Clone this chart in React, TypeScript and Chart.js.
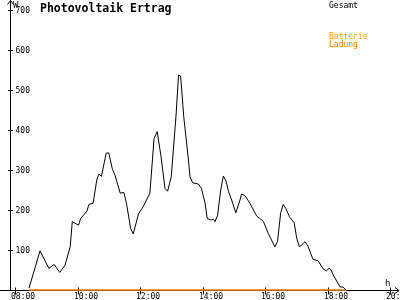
import React, { useEffect, useRef } from "react";
import { Chart, registerables } from "chart.js";

Chart.register(...registerables);

const title = "Photovoltaik Ertrag";
const seriesNames = ["Gesamt", "Batterie", "Ladung"];

const gesamtTimes = [
  "08:27", "08:48", "09:05", "09:15", "09:26", "09:36", "09:46", "09:50", "10:02", "10:06",
  "10:18", "10:22", "10:30", "10:37", "10:41", "10:46", "10:55", "11:00", "11:07", "11:12",
  "11:22", "11:29", "11:34", "11:42", "11:47", "11:57", "12:06", "12:19", "12:27", "12:33",
  "12:40", "12:48", "12:53", "13:00", "13:09", "13:14", "13:18", "13:24", "13:33", "13:36",
  "13:41", "13:52", "13:58", "14:05", "14:09", "14:16", "14:21", "14:24", "14:29", "14:35",
  "14:40", "14:45", "14:50", "14:56", "15:04", "15:12", "15:15", "15:22", "15:31", "15:44",
  "15:50", "15:57", "16:06", "16:19", "16:24", "16:30", "16:35", "16:40", "16:47", "16:56",
  "17:01", "17:06", "17:10", "17:17", "17:23", "17:32", "17:42", "17:52", "17:58", "18:03",
  "18:06", "18:12", "18:24", "18:30", "18:36",
];
const gesamtValues = [
  5, 98, 54, 64, 44, 62, 108, 171, 162, 179,
  197, 214, 217, 275, 290, 284, 342, 343, 302, 287,
  242, 244, 217, 154, 140, 190, 208, 242, 379, 396,
  337, 254, 247, 283, 433, 537, 535, 433, 325, 283,
  268, 265, 254, 217, 179, 175, 177, 171, 187, 250,
  285, 273, 246, 225, 193, 225, 240, 235, 217, 185,
  179, 171, 142, 108, 121, 192, 214, 204, 183, 168,
  129, 108, 112, 121, 108, 77, 73, 52, 48, 54,
  52, 35, 8, 7, 0,
];

const batterieTimes = ["08:27", "18:36"];
const batterieValues = [0, 0];

const xTickLabels = ["08:00", "10:00", "12:00", "14:00", "16:00", "18:00", "20:00"];
const yTickValues = [100, 200, 300, 400, 500, 600, 700];

const toHours = (t: string) => {
  const [h, m] = t.split(":").map(Number);
  return h + m / 60;
};

const MONO = "'DejaVu Sans Mono', monospace";

const axesPlugin = {
  id: "customAxes",
  beforeDatasetsDraw(chart: any) {
    const ctx = chart.ctx;
    const xs = chart.scales.x;
    const ys = chart.scales.y;
    const { left, bottom } = chart.chartArea;
    ctx.save();
    ctx.strokeStyle = "#000";
    ctx.lineWidth = 1;
    const ax = Math.round(left) + 0.5;
    const ay = Math.round(bottom) + 0.5;
    ctx.beginPath();
    ctx.moveTo(ax, ay);
    ctx.lineTo(ax, 0.5);
    ctx.moveTo(ax - 3, 4.5);
    ctx.lineTo(ax, 0.5);
    ctx.lineTo(ax + 3, 4.5);
    ctx.moveTo(0, ay);
    ctx.lineTo(399, ay);
    ctx.moveTo(395, ay - 3);
    ctx.lineTo(399, ay);
    ctx.lineTo(395, ay + 3);
    yTickValues.forEach((v) => {
      const py = Math.round(ys.getPixelForValue(v)) + 0.5;
      ctx.moveTo(ax - 2.5, py);
      ctx.lineTo(ax + 2.5, py);
    });
    xTickLabels.forEach((l) => {
      const px = Math.round(xs.getPixelForValue(toHours(l))) + 0.5;
      ctx.moveTo(px, ay - 3);
      ctx.lineTo(px, ay + 4);
    });
    ctx.stroke();

    ctx.fillStyle = "#000";
    ctx.font = `8px ${MONO}`;
    ctx.textAlign = "left";
    ctx.textBaseline = "middle";
    yTickValues.forEach((v) => {
      const py = Math.round(ys.getPixelForValue(v));
      ctx.fillText(String(v), ax + 5, py + 1);
    });
    ctx.textBaseline = "alphabetic";
    xTickLabels.forEach((l) => {
      const px = Math.round(xs.getPixelForValue(toHours(l)));
      ctx.fillText(l, px - 4, 299);
    });
    ctx.font = `9px ${MONO}`;
    ctx.fillText("h", 385, 286);
    ctx.fillText("W", 13, 8);
    ctx.restore();
  },
  afterDraw(chart: any) {
    const ctx = chart.ctx;
    ctx.save();
    ctx.textAlign = "left";
    ctx.textBaseline = "alphabetic";
    ctx.fillStyle = "#000";
    ctx.font = `bold 11.5px ${MONO}`;
    ctx.fillText(title, 40, 12);
    ctx.font = `8px ${MONO}`;
    ctx.fillText(seriesNames[0], 329, 8);
    ctx.fillStyle = "#ffa500";
    ctx.fillText(seriesNames[1], 329, 39);
    ctx.fillStyle = "#ff8000";
    ctx.fillText(seriesNames[2], 329, 47);
    ctx.restore();
  },
};

export default function App() {
  const ref = useRef<HTMLCanvasElement>(null);
  useEffect(() => {
    if (!ref.current) return;
    const chart = new Chart(ref.current, {
      type: "line",
      data: {
        datasets: [
          {
            label: seriesNames[0],
            data: gesamtTimes.map((t, i) => ({ x: toHours(t), y: gesamtValues[i] })),
            borderColor: "#000",
            borderWidth: 1,
            pointRadius: 0,
            tension: 0,
            fill: false,
          },
          {
            label: seriesNames[1] + " " + seriesNames[2],
            data: batterieTimes.map((t, i) => ({ x: toHours(t), y: batterieValues[i] })),
            borderColor: "#ff8000",
            borderWidth: 1.5,
            pointRadius: 0,
            tension: 0,
            fill: false,
            clip: false,
          },
        ],
      },
      options: {
        animation: false,
        responsive: false,
        events: [],
        layout: { padding: { left: 10, right: 0, top: 0, bottom: 10 } },
        plugins: { legend: { display: false }, tooltip: { enabled: false } },
        scales: {
          x: { type: "linear", display: false, min: 8 - 5 / 31.25, max: 8 - 5 / 31.25 + 390 / 31.25 },
          y: { type: "linear", display: false, min: 0, max: 725 },
        },
      },
      plugins: [axesPlugin],
    });
    return () => chart.destroy();
  }, []);
  return (
    <div style={{ position: "fixed", left: 0, top: 0, width: 400, height: 300, background: "#fff" }}>
      <canvas ref={ref} width={400} height={300} style={{ display: "block" }} />
    </div>
  );
}
